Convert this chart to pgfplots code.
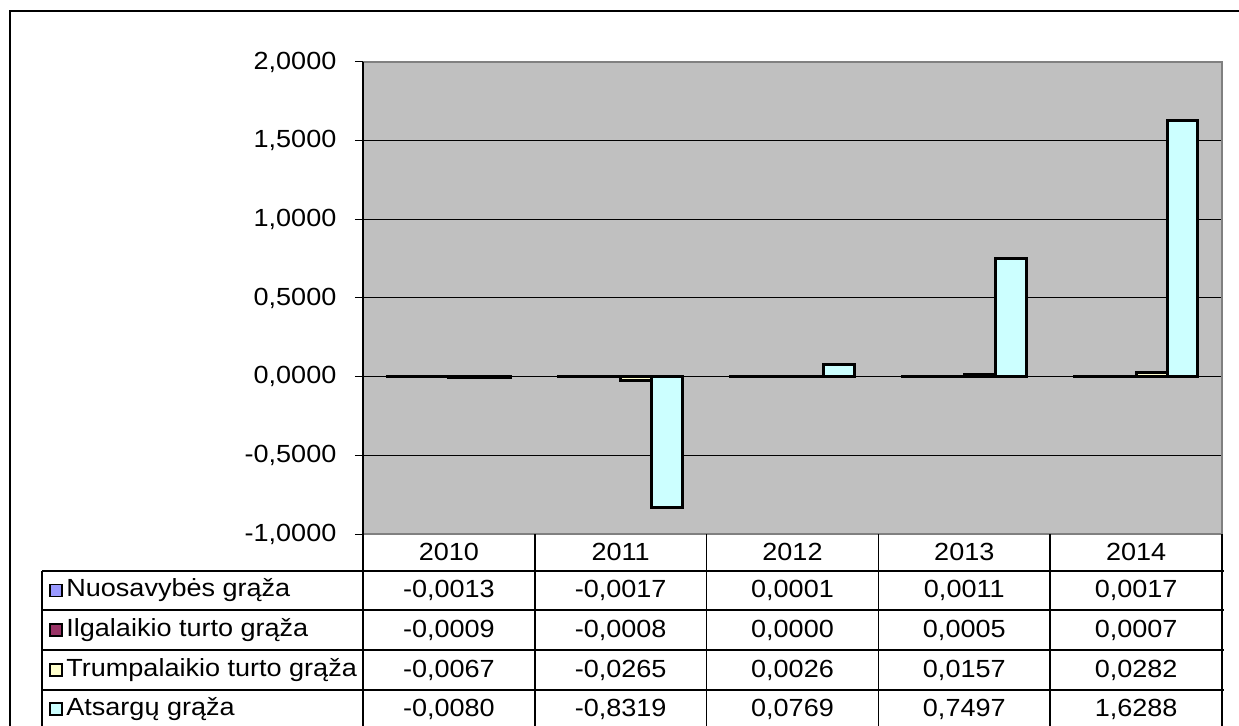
\documentclass[border=0pt]{standalone}
\usepackage{fontspec}
\setmainfont{Liberation Sans}[FakeStretch=1.09]
\usepackage{pgfplots}
\pgfplotsset{compat=1.18}

\definecolor{nuos}{HTML}{9999FF}
\definecolor{ilga}{HTML}{993366}
\definecolor{trum}{HTML}{FFFFCC}
\definecolor{atsa}{HTML}{CCFFFF}
\definecolor{plotgray}{HTML}{C0C0C0}
\definecolor{edgegray}{HTML}{808080}

% one row of the data table: y position, then five values
\newcommand\tablerow[6]{%
  \node at (224.45pt,#1pt) {#2};
  \node at (310.35pt,#1pt) {#3};
  \node at (396.25pt,#1pt) {#4};
  \node at (482.15pt,#1pt) {#5};
  \node at (568.05pt,#1pt) {#6};
}

\begin{document}
\fontsize{12.4}{14}\selectfont
\begin{tikzpicture}
\useasboundingbox (0,0) rectangle (619.5pt,362.5pt);
% outer chart frame
\draw[line width=0.8pt] (5pt,-5pt) -- (5pt,357pt) -- (630pt,357pt);

\begin{axis}[
    at={(181.5pt,95.5pt)}, anchor=south west,
    width=429.5pt, height=236pt, scale only axis,
    xmin=-0.5, xmax=4.5, ymin=-1, ymax=2,
    ybar, bar width=0.18,
    xtick=\empty,
    ytick={-1,-0.5,0,0.5,1,1.5,2},
    ytick pos=left,
    tick align=outside,
    major tick length=4pt,
    ytick style={black, line width=0.5pt},
    ymajorgrids,
    grid style={black, line width=0.5pt},
    axis line style={draw=none},
    axis background/.style={fill=plotgray},
    yticklabel style={xshift=-5pt,
      /pgf/number format/fixed,
      /pgf/number format/fixed zerofill,
      /pgf/number format/precision=4,
      /pgf/number format/use comma,
      /pgf/number format/assume math mode=true},
    clip=false,
]
\addplot[fill=nuos, draw=black, line width=1.5pt, bar shift=-0.27]
    coordinates {(0,-0.0013) (1,-0.0017) (2,0.0001) (3,0.0011) (4,0.0017)};
\addplot[fill=ilga, draw=black, line width=1.5pt, bar shift=-0.09]
    coordinates {(0,-0.0009) (1,-0.0008) (2,0.0000) (3,0.0005) (4,0.0007)};
\addplot[fill=trum, draw=black, line width=1.5pt, bar shift=0.09]
    coordinates {(0,-0.0067) (1,-0.0265) (2,0.0026) (3,0.0157) (4,0.0282)};
\addplot[fill=atsa, draw=black, line width=1.5pt, bar shift=0.27]
    coordinates {(0,-0.0080) (1,-0.8319) (2,0.0769) (3,0.7497) (4,1.6288)};
% plot area border
\draw[edgegray, line width=1.3pt] (rel axis cs:0,1) -- (rel axis cs:1,1) -- (rel axis cs:1,0) -- (rel axis cs:0,0);
\draw[black, line width=0.6pt] (rel axis cs:0,0) -- (rel axis cs:0,1);
\end{axis}

% data table
\begin{scope}[line width=0.75pt]
  \foreach \y in {77,57.5,37.5,17.5} \draw (21pt,\y pt) -- (612pt,\y pt);
  \foreach \x in {181.5,267.4,353.3,439.2,525.1,611} \draw (\x pt,95.5pt) -- (\x pt,-5pt);
  \draw (21pt,77pt) -- (21pt,-5pt);
\end{scope}

% header row
\foreach \yr [count=\i from 0] in {2010,2011,2012,2013,2014}
  \node at ({181.5pt+(\i+0.5)*85.9pt},86.5pt) {\yr};

% legend keys and series names
\foreach \c/\name/\y in {nuos/Nuosavybės grąža/67.25, ilga/Ilgalaikio turto grąža/47.5, trum/Trumpalaikio turto grąža/27.5, atsa/Atsargų grąža/8}{
  \draw[fill=\c, line width=0.6pt] (25pt,{\y pt-3pt}) rectangle (31pt,{\y pt+3pt});
  \node[anchor=west, inner sep=0pt] at (33pt,\y pt) {\name};
}

% values
\tablerow{67.25}{-0,0013}{-0,0017}{0,0001}{0,0011}{0,0017}
\tablerow{47.5}{-0,0009}{-0,0008}{0,0000}{0,0005}{0,0007}
\tablerow{27.5}{-0,0067}{-0,0265}{0,0026}{0,0157}{0,0282}
\tablerow{8}{-0,0080}{-0,8319}{0,0769}{0,7497}{1,6288}
\end{tikzpicture}
\end{document}
